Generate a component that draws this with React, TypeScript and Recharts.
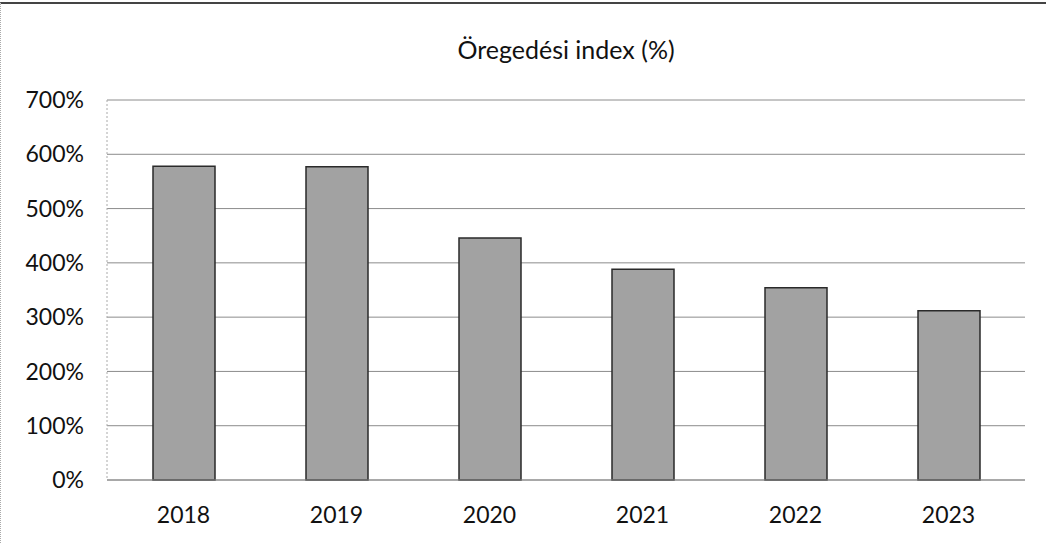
import { BarChart, Bar, XAxis, YAxis, CartesianGrid } from "recharts";

const years = ["2018", "2019", "2020", "2021", "2022", "2023"];
const agingIndex = [578, 577, 446, 388, 354, 312];
const yTicks = [0, 100, 200, 300, 400, 500, 600, 700];

const data = years.map((year, i) => ({ year, value: agingIndex[i] }));

const font = "Lato, 'Open Sans', sans-serif";

export default function App() {
  return (
    <div
      style={{
        position: "absolute",
        left: 0,
        top: 0,
        width: 1046,
        height: 543,
        background: "#fff",
        fontFamily: font,
      }}
    >
      <div
        style={{
          position: "absolute",
          left: 0,
          top: 2,
          width: 1046,
          height: 541,
          borderTop: "2px solid #444",
          borderLeft: "1px dotted #aaa",
          boxSizing: "border-box",
        }}
      />
      <div
        style={{
          position: "absolute",
          left: 107,
          width: 918,
          top: 34,
          textAlign: "center",
          fontSize: 25,
          color: "#111",
        }}
      >
        Öregedési index (%)
      </div>
      <BarChart
        width={1046}
        height={543}
        data={data}
        margin={{ top: 100, right: 21, bottom: 13, left: 0 }}
      >
        <CartesianGrid vertical={false} stroke="#8c8c8c" />
        <XAxis
          dataKey="year"
          height={50}
          tickLine={false}
          tickSize={0}
          tickMargin={27}
          axisLine={{ stroke: "#8c8c8c" }}
          tick={{ fontSize: 23, fill: "#111", fontFamily: font }}
        />
        <YAxis
          width={107}
          domain={[0, 700]}
          ticks={yTicks}
          tickFormatter={(v) => `${v}%`}
          tickLine={false}
          tickSize={0}
          tickMargin={23}
          axisLine={{ stroke: "#aaa", strokeDasharray: "2 2" }}
          tick={{ fontSize: 23, fill: "#111", fontFamily: font }}
        />
        <Bar
          dataKey="value"
          barSize={62}
          fill="#a2a2a2"
          stroke="#2a2a2a"
          strokeWidth={1.5}
          isAnimationActive={false}
        />
      </BarChart>
    </div>
  );
}
